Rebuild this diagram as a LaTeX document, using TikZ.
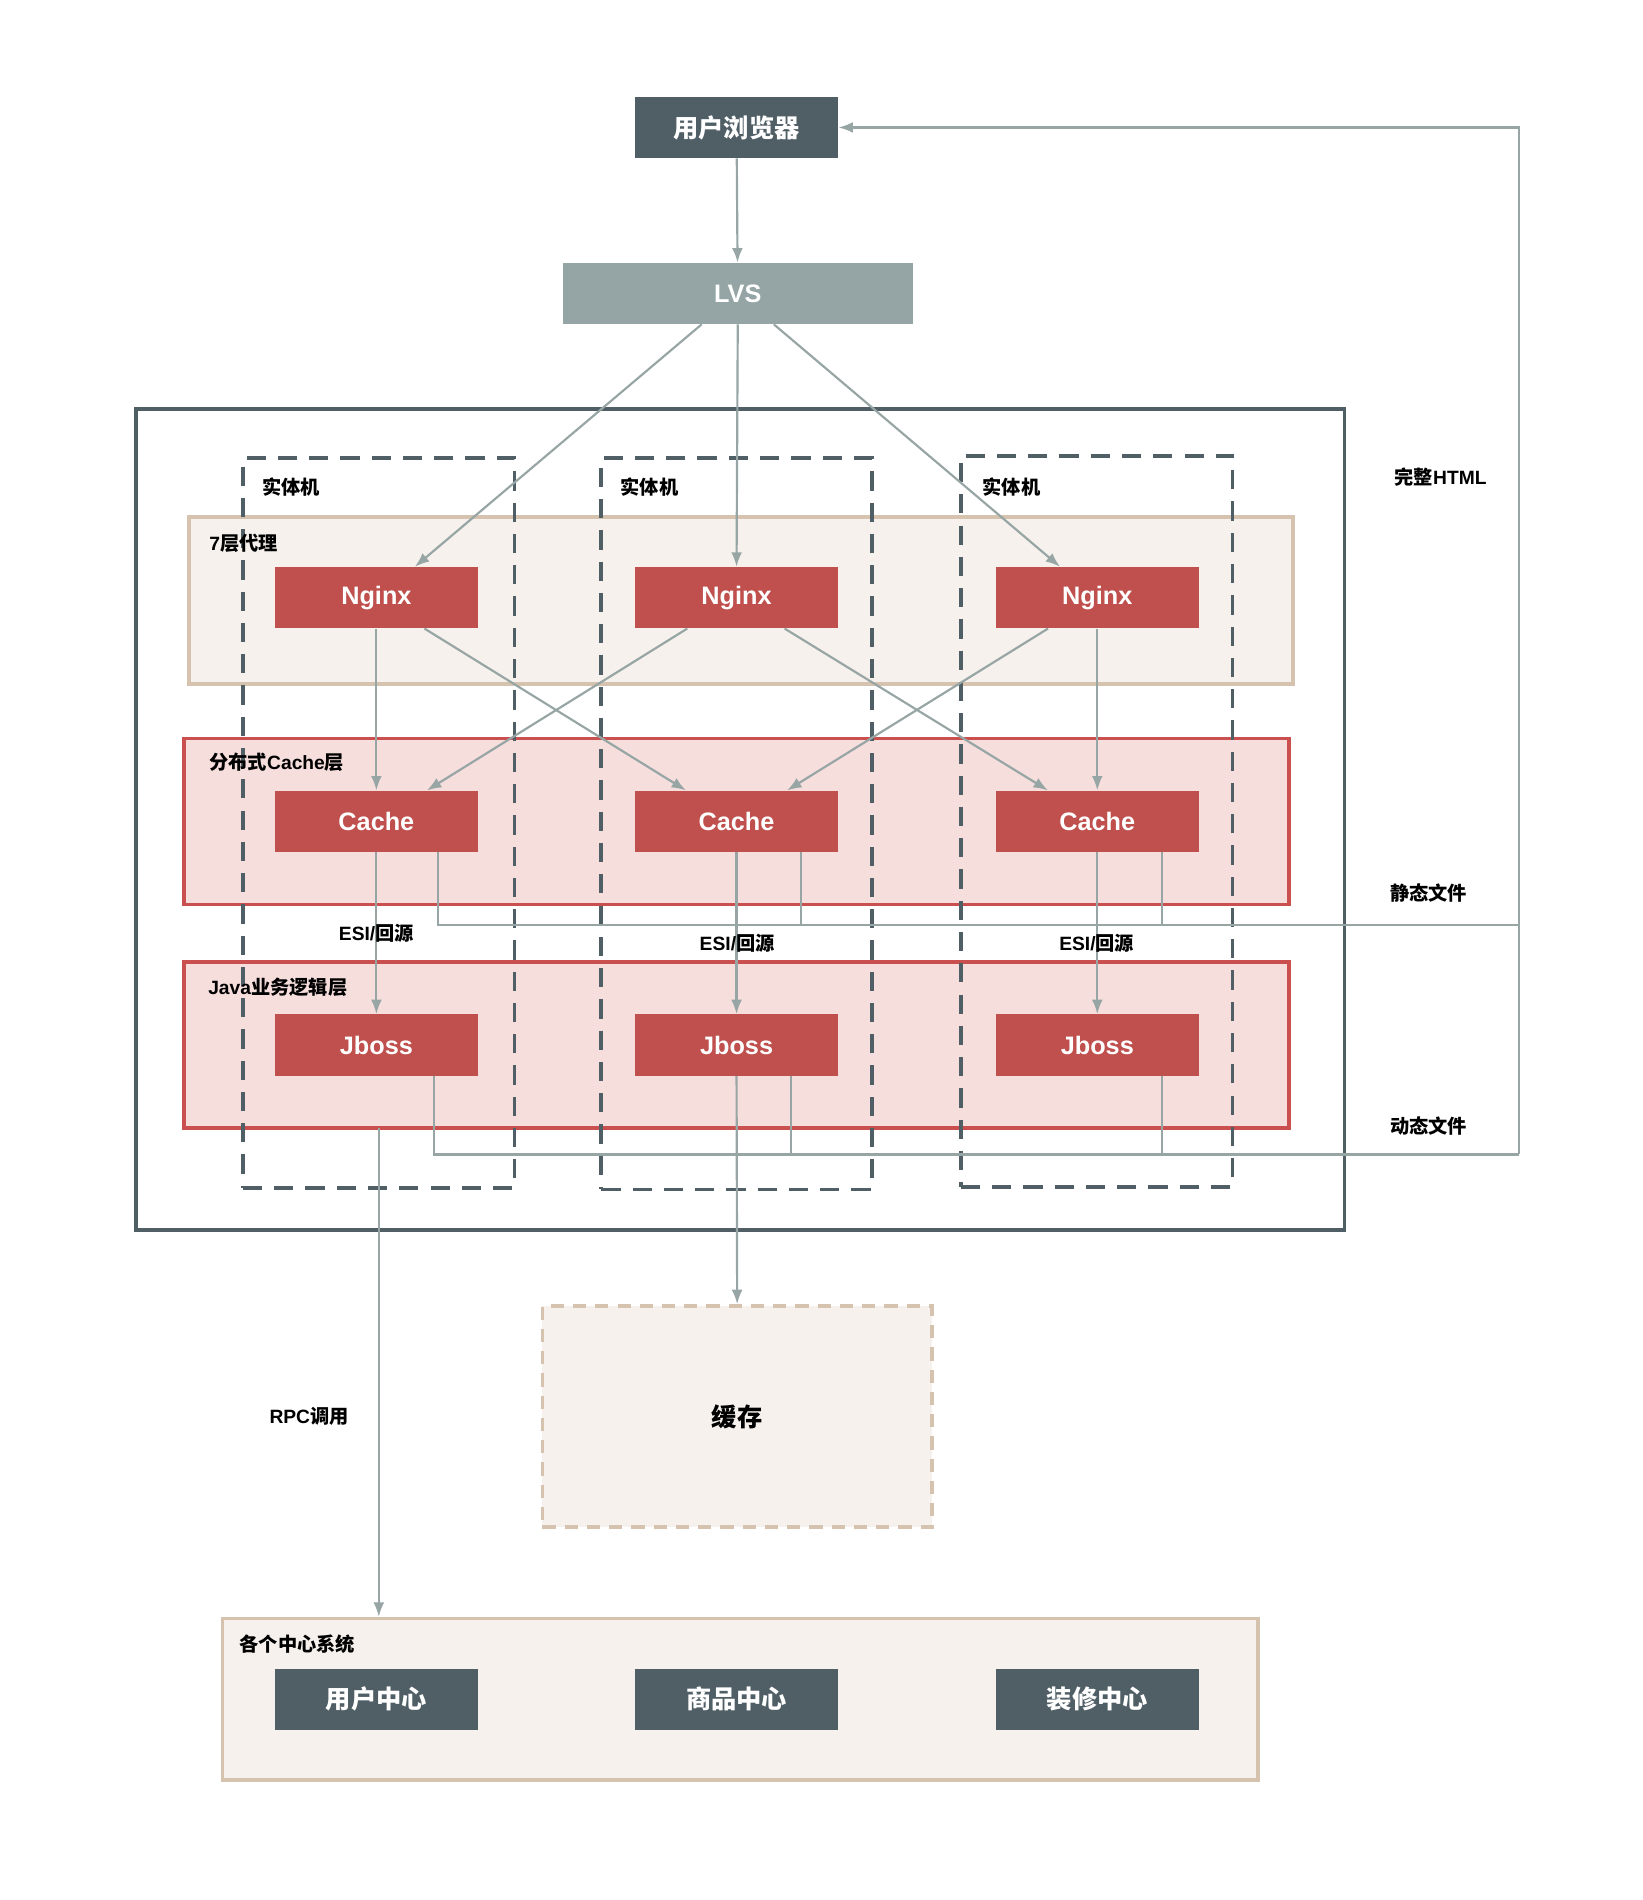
\documentclass[tikz,border=0pt]{standalone}
\usepackage{fontspec}
\setmainfont{Liberation Sans}
\newfontfamily\cjk{Noto Sans CJK SC}
\usetikzlibrary{arrows.meta}
\definecolor{slate}{HTML}{505F66}
\definecolor{lvscol}{HTML}{95A5A6}
\definecolor{redbox}{HTML}{C0504D}
\definecolor{conncol}{HTML}{97A5A5}
\definecolor{tanline}{HTML}{D5C2AF}
\definecolor{tanfill}{HTML}{F6F1EC}
\definecolor{pinkfill}{HTML}{F6DEDD}
\definecolor{pinkline}{HTML}{C9504F}
\begin{document}
\begin{tikzpicture}[x=1pt,y=-1pt,
  box/.style={rectangle,minimum width=169pt,minimum height=51pt,inner sep=0pt,text=white,font=\fontsize{21}{24}\selectfont\bfseries},
  redb/.style={box,fill=redbox},
  darkb/.style={box,fill=slate,font=\fontsize{21}{24}\selectfont\cjk\bfseries},
  lab/.style={font=\fontsize{16}{18}\selectfont\bfseries,inner sep=0pt},
  cn/.style={draw=conncol,line width=1.8pt},
  arr/.style={cn,-{Latex[length=12pt,width=9pt]}},
  tanband/.style={rectangle,draw=tanline,fill=tanfill,line width=3pt,inner sep=0pt},
  pinkband/.style={rectangle,draw=pinkline,fill=pinkfill,line width=3pt,inner sep=0pt},
  machine/.style={rectangle,draw=slate,line width=3pt,dash pattern=on 16pt off 10pt,inner sep=0pt},
]
\useasboundingbox (0,0) rectangle (1366,1580);

% outer frame
\node[rectangle,draw=slate,line width=3pt,minimum width=1005pt,minimum height=683pt,inner sep=0pt] (frame) at (615.5,681.5) {};

% bands
\node[tanband,minimum width=918pt,minimum height=139pt] (proxy) at (616,499.5) {};
\node[pinkband,minimum width=919pt,minimum height=138pt] (cacheband) at (612.5,683) {};
\node[pinkband,minimum width=919pt,minimum height=138pt] (javaband) at (612.5,869) {};

% machines
\node[machine,minimum width=226pt,minimum height=607pt] (m1) at (315,684.5) {};
\node[machine,minimum width=225pt,minimum height=608pt] (m2) at (612.5,685) {};
\node[machine,minimum width=226pt,minimum height=608pt] (m3) at (912,683) {};

% labels
\node[lab,anchor=west] (l1) at (218,405) {\cjk 实体机};
\node[lab,anchor=west] (l2) at (516,405) {\cjk 实体机};
\node[lab,anchor=west] (l3) at (817,405) {\cjk 实体机};
\node[lab,anchor=west] (lp) at (174,452) {7{\cjk 层代理}};
\node[lab,anchor=west] (lc) at (174,634) {{\cjk 分布式}Cache{\cjk 层}};
\node[lab,anchor=west] (lj) at (173,821) {Java{\cjk 业务逻辑层}};

% lower boxes
\node[rectangle,draw=tanline,fill=tanfill,line width=3pt,dash pattern=on 11pt off 7.5pt,minimum width=324pt,minimum height=184pt,inner sep=0pt,font=\fontsize{21}{24}\selectfont\cjk\bfseries] (store) at (613,1178) {缓存};
\node[tanband,minimum width=861pt,minimum height=134pt] (centers) at (615.5,1413) {};
\node[lab,anchor=west] (lcen) at (199,1367) {\cjk 各个中心系统};

% top boxes
\node[box,fill=slate,font=\fontsize{21}{24}\selectfont\cjk\bfseries] (browser) at (612.5,106) {用户浏览器};
\node[box,fill=lvscol,minimum width=291pt] (lvs) at (613.5,244) {LVS};

% connectors
\coordinate (sR) at (1263,769);
\coordinate (dR) at (1263,960);
\coordinate (tR) at (1263,106);
\coordinate (rpcS) at (315,938);

\draw[arr] (browser) -- (lvs);

% red nodes
\node[redb] (nL) at (313,497) {Nginx};
\node[redb] (nM) at (612.5,497) {Nginx};
\node[redb] (nR) at (912.5,497) {Nginx};
\node[redb] (cL) at (313,683) {Cache};
\node[redb] (cM) at (612.5,683) {Cache};
\node[redb] (cR) at (912.5,683) {Cache};
\node[redb] (jL) at (313,869) {Jboss};
\node[redb] (jM) at (612.5,869) {Jboss};
\node[redb] (jR) at (912.5,869) {Jboss};

\draw[arr] ([xshift=-30pt]lvs.south) -- ([xshift=32pt]nL.north);
\draw[arr] (lvs.south) -- (nM.north);
\draw[arr] ([xshift=30pt]lvs.south) -- ([xshift=-31pt]nR.north);

\draw[arr] (nL.south) -- (cL.north);
\draw[arr] ([xshift=40pt]nL.south) -- ([xshift=-42pt]cM.north);
\draw[arr] ([xshift=-41pt]nM.south) -- ([xshift=42pt]cL.north);
\draw[arr] ([xshift=40pt]nM.south) -- ([xshift=-41pt]cR.north);
\draw[arr] ([xshift=-41pt]nR.south) -- ([xshift=42pt]cM.north);
\draw[arr] (nR.south) -- (cR.north);

\draw[arr] (cL.south) -- (jL.north);
\draw[arr] (cM.south) -- (jM.north);
\draw[arr] (cR.south) -- (jR.north);

\draw[cn] ([xshift=51pt]cL.south) |- (sR);
\draw[cn] ([xshift=53.5pt]cM.south) |- (sR);
\draw[cn] ([xshift=53.5pt]cR.south) |- (sR);

\draw[cn] ([xshift=48pt]jL.south) |- (dR);
\draw[cn] ([xshift=45.5pt]jM.south) |- (dR);
\draw[cn] ([xshift=53.5pt]jR.south) |- (dR);

\draw[arr] (dR) -- (sR) -- (tR) -- (browser.east);

\draw[arr] (jM.south) -- (store.north);
\draw[arr] (rpcS) -- (rpcS |- centers.north);

% redraw red nodes on top
\node[redb] at (nL) {Nginx};
\node[redb] at (nM) {Nginx};
\node[redb] at (nR) {Nginx};
\node[redb] at (cL) {Cache};
\node[redb] at (cM) {Cache};
\node[redb] at (cR) {Cache};
\node[redb] at (jL) {Jboss};
\node[redb] at (jM) {Jboss};
\node[redb] at (jR) {Jboss};

% connector labels
\node[lab] (e1) at (313,776) {ESI/{\cjk 回源}};
\node[lab] (e2) at (613,784) {ESI/{\cjk 回源}};
\node[lab] (e3) at (912,784) {ESI/{\cjk 回源}};
\node[lab] (t1) at (1198,397) {{\cjk 完整}HTML};
\node[lab] (t2) at (1188,743) {\cjk 静态文件};
\node[lab] (t3) at (1188,936) {\cjk 动态文件};
\node[lab] (t4) at (257,1178) {RPC{\cjk 调用}};

% center systems
\node[darkb] (u1) at (313,1413) {用户中心};
\node[darkb] (u2) at (612.5,1413) {商品中心};
\node[darkb] (u3) at (912.5,1413) {装修中心};
\end{tikzpicture}
\end{document}
